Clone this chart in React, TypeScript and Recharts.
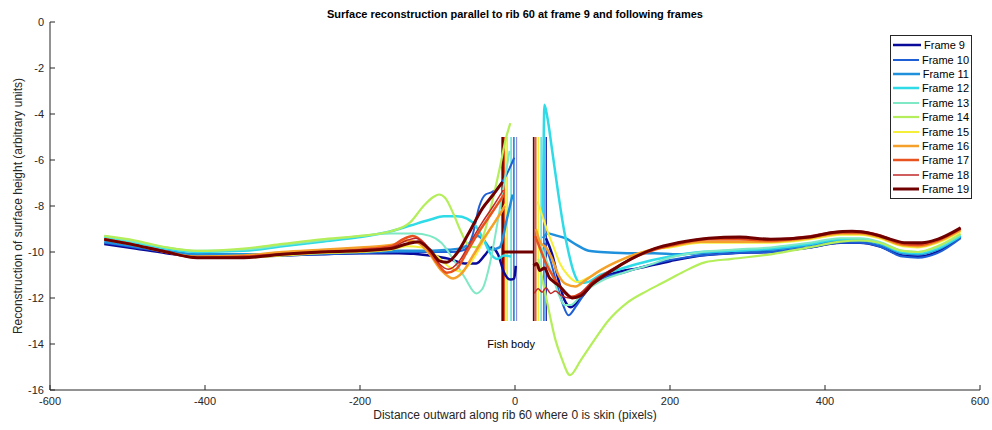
import React from 'react';
import { LineChart, Line, XAxis, YAxis, ReferenceLine, ReferenceDot, Legend } from 'recharts';

type Pt = [number, number];

const frameNames = ['Frame 9', 'Frame 10', 'Frame 11', 'Frame 12', 'Frame 13', 'Frame 14', 'Frame 15', 'Frame 16', 'Frame 17', 'Frame 18', 'Frame 19'];
const frameColors = ['#0a0a9a', '#1f5fd6', '#1f90dc', '#2fdbe6', '#7fe8c4', '#b4ee5a', '#f5ef3a', '#f4a02a', '#e8521e', '#c02828', '#700000'];
const frameWidths = [2.5, 2, 2.5, 2.5, 2, 2.2, 2, 2.5, 2.5, 1.5, 3];

const frame9Left: Pt[] = [[-530, -9.65], [-490, -9.85], [-450, -10.05], [-410, -10.2], [-350, -10.2], [-300, -10.15], [-250, -10.1], [-200, -10.05], [-150, -10.05], [-110, -10.15], [-85, -10.3], [-65, -10.5], [-50, -10.5], [-38, -10.1], [-30, -9.8], [-22, -10.1], [-14, -10.9], [-6, -11.2], [-1, -11.15], [1, -10.6]];
const frame9Right: Pt[] = [[40, -9.4], [48, -10.1], [56, -11.2], [64, -12.1], [72, -12.4], [85, -12.0], [100, -11.4], [130, -10.9], [160, -10.7], [200, -10.4], [240, -10.15], [280, -10.05], [330, -10.0], [380, -9.8], [420, -9.6], [445, -9.6], [470, -9.75], [500, -10.15], [520, -10.2], [545, -10.0], [575, -9.35]];

const frame10Left: Pt[] = [[-530, -9.6], [-490, -9.8], [-450, -10.0], [-410, -10.15], [-350, -10.15], [-300, -10.15], [-250, -10.1], [-200, -10.05], [-150, -10.0], [-110, -10.0], [-80, -10.0], [-65, -9.9], [-55, -9.3], [-46, -8.0], [-38, -7.5], [-30, -7.4], [-22, -7.2], [-12, -6.7], [-1, -5.9]];
const frame10Right: Pt[] = [[38, -9.6], [46, -10.4], [54, -11.4], [62, -12.3], [69, -12.75], [78, -12.4], [90, -11.8], [110, -11.2], [140, -10.9], [170, -10.6], [200, -10.35], [240, -10.15], [280, -10.05], [330, -10.0], [380, -9.8], [420, -9.6], [445, -9.6], [470, -9.75], [500, -10.2], [520, -10.25], [545, -10.05], [575, -9.4]];

const frame11Left: Pt[] = [[-530, -9.55], [-490, -9.75], [-450, -9.95], [-410, -10.1], [-350, -10.1], [-300, -10.1], [-250, -10.05], [-200, -10.0], [-150, -9.95], [-110, -9.95], [-85, -9.9], [-70, -9.85], [-58, -9.6], [-48, -9.3], [-40, -9.5], [-30, -9.9], [-20, -9.8], [-10, -8.5], [-3, -7.5]];
const frame11Right: Pt[] = [[36, -9.4], [42, -9.2], [55, -9.3], [65, -9.4], [80, -9.7], [95, -9.95], [110, -10.0], [145, -10.05], [180, -10.05], [210, -10.1], [240, -10.05], [280, -9.95], [330, -9.9], [380, -9.7], [420, -9.5], [445, -9.5], [470, -9.65], [500, -10.05], [520, -10.1], [545, -9.9], [575, -9.3]];

const frame12Left: Pt[] = [[-530, -9.35], [-490, -9.6], [-450, -9.85], [-410, -10.0], [-350, -9.95], [-300, -9.75], [-250, -9.55], [-200, -9.35], [-160, -9.1], [-135, -8.85], [-110, -8.6], [-92, -8.45], [-75, -8.45], [-62, -8.55], [-50, -8.9], [-40, -9.5], [-32, -10.05], [-23, -10.3], [-14, -10.15], [-5, -10.2]];
const frame12Right: Pt[] = [[36, -8.5], [38, -3.6], [42, -4.2], [48, -5.6], [56, -7.5], [63, -9.0], [69, -10.0], [76, -10.9], [84, -11.35], [95, -11.3], [110, -11.0], [130, -10.8], [160, -10.5], [200, -10.2], [240, -10.0], [280, -9.95], [330, -9.85], [380, -9.65], [420, -9.45], [445, -9.45], [470, -9.6], [500, -10.0], [520, -10.05], [545, -9.85], [575, -9.3]];

const frame13Left: Pt[] = [[-530, -9.3], [-490, -9.55], [-450, -9.8], [-410, -9.95], [-350, -9.9], [-300, -9.7], [-250, -9.5], [-200, -9.3], [-160, -9.2], [-130, -9.2], [-110, -9.3], [-95, -9.6], [-80, -10.3], [-65, -11.1], [-50, -11.8], [-42, -11.6], [-33, -10.6], [-24, -9.0], [-15, -7.2], [-7, -5.6]];
const frame13Right: Pt[] = [[32, -9.6], [40, -10.3], [48, -11.0], [56, -11.8], [64, -12.3], [72, -12.3], [82, -12.0], [95, -11.6], [115, -11.2], [140, -10.9], [170, -10.6], [200, -10.25], [240, -10.0], [280, -9.9], [330, -9.8], [380, -9.6], [420, -9.4], [445, -9.4], [470, -9.55], [500, -9.95], [520, -10.0], [545, -9.8], [575, -9.25]];

const frame14Left: Pt[] = [[-530, -9.3], [-490, -9.5], [-450, -9.8], [-410, -9.95], [-350, -9.85], [-300, -9.65], [-250, -9.45], [-200, -9.3], [-160, -9.1], [-135, -8.7], [-118, -8.0], [-105, -7.6], [-98, -7.5], [-90, -7.65], [-80, -8.3], [-70, -9.1], [-60, -9.7], [-50, -9.8], [-40, -9.2], [-30, -7.9], [-20, -6.4], [-12, -5.1], [-6, -4.4]];
const frame14Right: Pt[] = [[30, -10.3], [36, -11.3], [44, -12.6], [52, -13.8], [60, -14.6], [71, -15.35], [85, -14.7], [101, -13.9], [120, -13.0], [145, -12.2], [170, -11.7], [190, -11.35], [215, -10.9], [245, -10.45], [280, -10.3], [330, -10.1], [380, -9.8], [420, -9.55], [445, -9.5], [470, -9.6], [500, -9.95], [520, -10.0], [545, -9.75], [575, -9.2]];

const frame15Left: Pt[] = [[-530, -9.45], [-490, -9.7], [-450, -10.0], [-410, -10.25], [-350, -10.25], [-300, -10.15], [-250, -10.05], [-200, -10.0], [-160, -9.9], [-140, -9.75], [-120, -9.8], [-100, -10.2], [-85, -10.65], [-70, -10.85], [-58, -10.5], [-45, -9.8], [-32, -9.0], [-20, -8.4], [-12, -7.9]];
const frame15Right: Pt[] = [[29, -7.8], [35, -8.4], [42, -9.1], [50, -9.8], [58, -10.5], [68, -11.0], [80, -11.3], [95, -11.1], [115, -10.7], [140, -10.3], [170, -9.95], [200, -9.8], [240, -9.6], [280, -9.6], [330, -9.6], [380, -9.45], [420, -9.25], [445, -9.25], [470, -9.4], [500, -9.75], [520, -9.8], [545, -9.6], [575, -9.1]];

const frame16Left: Pt[] = [[-530, -9.45], [-490, -9.7], [-450, -10.0], [-410, -10.2], [-350, -10.15], [-300, -10.0], [-250, -9.9], [-200, -9.8], [-160, -9.7], [-140, -9.5], [-125, -9.6], [-110, -10.1], [-95, -10.8], [-80, -11.15], [-68, -10.9], [-55, -10.2], [-42, -9.5], [-28, -8.8], [-13, -8.0]];
const frame16Right: Pt[] = [[27, -9.0], [33, -9.6], [40, -9.8], [48, -10.3], [56, -11.0], [66, -11.4], [78, -11.5], [92, -11.2], [110, -10.8], [140, -10.3], [170, -9.95], [200, -9.75], [240, -9.55], [280, -9.55], [330, -9.55], [380, -9.4], [420, -9.2], [445, -9.2], [470, -9.35], [500, -9.7], [520, -9.75], [545, -9.55], [575, -9.05]];

const frame17Left: Pt[] = [[-530, -9.45], [-490, -9.7], [-450, -10.0], [-410, -10.25], [-350, -10.2], [-300, -10.1], [-250, -10.0], [-200, -9.9], [-160, -9.75], [-145, -9.45], [-132, -9.3], [-118, -9.6], [-102, -10.4], [-88, -10.9], [-76, -10.75], [-62, -10.0], [-48, -9.2], [-32, -8.4], [-14, -7.5]];
const frame17Right: Pt[] = [[26, -9.3], [33, -9.9], [40, -10.5], [50, -11.1], [60, -11.6], [72, -11.95], [85, -11.8], [100, -11.3], [125, -10.8], [150, -10.3], [180, -9.9], [210, -9.65], [250, -9.45], [290, -9.45], [330, -9.5], [380, -9.35], [420, -9.15], [445, -9.15], [470, -9.3], [500, -9.65], [520, -9.7], [545, -9.5], [575, -9.0]];

const frame18Left: Pt[] = [[-530, -9.45], [-490, -9.7], [-450, -10.0], [-410, -10.25], [-350, -10.2], [-300, -10.1], [-250, -10.0], [-200, -9.9], [-160, -9.8], [-140, -9.5], [-128, -9.4], [-112, -9.8], [-98, -10.5], [-86, -10.75], [-72, -10.4], [-58, -9.6], [-42, -8.7], [-28, -8.0], [-15, -7.3]];
const frame18Right: Pt[] = [[25, -11.8], [30, -11.6], [35, -11.75], [40, -11.55], [46, -11.8], [52, -11.7], [60, -11.9], [70, -12.0], [82, -11.85], [100, -11.3], [125, -10.75], [150, -10.3], [180, -9.85], [210, -9.6], [250, -9.4], [290, -9.4], [330, -9.45], [380, -9.3], [420, -9.1], [445, -9.1], [470, -9.25], [500, -9.6], [520, -9.65], [545, -9.45], [575, -8.95]];

const frame19Left: Pt[] = [[-530, -9.45], [-490, -9.7], [-450, -10.0], [-410, -10.25], [-350, -10.25], [-300, -10.1], [-250, -10.0], [-200, -9.95], [-160, -9.85], [-140, -9.65], [-125, -9.55], [-110, -9.9], [-97, -10.4], [-88, -10.45], [-76, -10.1], [-60, -9.2], [-42, -8.1], [-28, -7.5], [-16, -6.95]];
const frame19Right: Pt[] = [[24, -10.6], [28, -10.5], [32, -10.8], [38, -10.7], [44, -11.1], [50, -11.3], [58, -11.5], [66, -11.8], [74, -12.0], [85, -11.9], [100, -11.4], [125, -10.8], [150, -10.3], [180, -9.85], [210, -9.6], [250, -9.4], [290, -9.35], [330, -9.45], [380, -9.35], [410, -9.15], [435, -9.1], [460, -9.2], [485, -9.45], [505, -9.6], [525, -9.6], [545, -9.45], [575, -8.95]];

const leftParts: Pt[][] = [frame9Left, frame10Left, frame11Left, frame12Left, frame13Left, frame14Left, frame15Left, frame16Left, frame17Left, frame18Left, frame19Left];
const rightParts: Pt[][] = [frame9Right, frame10Right, frame11Right, frame12Right, frame13Right, frame14Right, frame15Right, frame16Right, frame17Right, frame18Right, frame19Right];

const leftEdges = [2, -1.5, -1.5, -5, -5, -10, -10.5, -13.5, -13.5, -15.5, -16];
const rightEdges = [40.3, 37.2, 37.2, 33.8, 33.8, 30.3, 30.3, 26.8, 26.8, 24.3, 24];
const edgeTop = -5;
const edgeBottom = -13;
const bodyLine: Pt[] = [[-16, -10], [24, -10]];
const bodyLabel: Pt = [-5, -14];

const xTicks = [-600, -400, -200, 0, 200, 400, 600];
const yTicks = [-16, -14, -12, -10, -8, -6, -4, -2, 0];

const FONT = '"Liberation Sans", Arial, Helvetica, sans-serif';
const AXIS = '#262626';

const toRows = (left: Pt[], right: Pt[]) => [
  ...left.map(([x, y]) => ({ x, y })),
  { x: (left[left.length - 1][0] + right[0][0]) / 2, y: null as number | null },
  ...right.map(([x, y]) => ({ x, y })),
];

const LegendBox = () => (
  <div
    style={{
      width: 82,
      boxSizing: 'border-box',
      background: '#fff',
      border: `1px solid ${AXIS}`,
      padding: '2px 2px 2px 2px',
      fontFamily: FONT,
      fontSize: 11,
      color: '#000',
    }}
  >
    {frameNames.map((n, i) => (
      <div key={n} style={{ display: 'flex', alignItems: 'center', height: 14.4 }}>
        <svg width={28} height={6} style={{ display: 'block' }}>
          <line x1={0} y1={3} x2={28} y2={3} stroke={frameColors[i]} strokeWidth={frameWidths[i]} />
        </svg>
        <span style={{ marginLeft: 3, whiteSpace: 'nowrap' }}>{n}</span>
      </div>
    ))}
  </div>
);

export default function App() {
  return (
    <div style={{ position: 'absolute', left: 0, top: 0, width: 992, height: 430, background: '#fff' }}>
      <div
        style={{
          position: 'absolute',
          left: 215,
          top: 7,
          width: 600,
          textAlign: 'center',
          fontFamily: FONT,
          fontSize: 11,
          fontWeight: 'bold',
          lineHeight: '14px',
          color: '#000',
        }}
      >
        Surface reconstruction parallel to rib 60 at frame 9 and following frames
      </div>
      <LineChart width={992} height={430} margin={{ top: 22, right: 12, bottom: 0, left: 0 }}>
        <XAxis
          type="number"
          dataKey="x"
          domain={[-600, 600]}
          ticks={xTicks}
          allowDataOverflow
          height={40}
          tickSize={-5}
          tickMargin={12}
          stroke={AXIS}
          tick={{ fill: AXIS, fontSize: 11, fontFamily: FONT }}
          label={{ value: 'Distance outward along rib 60 where 0 is skin (pixels)', position: 'insideBottom', offset: 11, fill: AXIS, fontSize: 12, fontFamily: FONT }}
        />
        <YAxis
          type="number"
          domain={[-16, 0]}
          ticks={yTicks}
          allowDataOverflow
          width={50}
          tickSize={-5}
          tickMargin={11}
          stroke={AXIS}
          tick={{ fill: AXIS, fontSize: 11, fontFamily: FONT }}
          label={{ value: 'Reconstruction of surface height (arbitrary units)', angle: -90, position: 'insideLeft', offset: 18, fill: AXIS, fontSize: 12, fontFamily: FONT, style: { textAnchor: 'middle' } }}
        />
        {leftEdges.map((e, i) => (
          <ReferenceLine
            key={`le${i}`}
            segment={[{ x: e, y: edgeTop }, { x: e, y: edgeBottom }]}
            stroke={frameColors[i]}
            strokeOpacity={i === 0 ? 0.45 : 1}
            strokeWidth={i === 10 ? 2.5 : 1.2}
          />
        ))}
        {rightEdges.map((e, i) => (
          <ReferenceLine
            key={`re${i}`}
            segment={[{ x: e, y: edgeTop }, { x: e, y: edgeBottom }]}
            stroke={frameColors[i]}
            strokeWidth={i === 10 ? 1.5 : 1.2}
          />
        ))}
        <ReferenceLine
          segment={bodyLine.map(([x, y]) => ({ x, y }))}
          stroke={frameColors[10]}
          strokeWidth={3}
        />
        {frameNames.map((n, i) => (
          <Line
            key={n}
            name={n}
            data={toRows(leftParts[i], rightParts[i])}
            dataKey="y"
            type="monotone"
            stroke={frameColors[i]}
            strokeWidth={frameWidths[i]}
            dot={false}
            activeDot={false}
            isAnimationActive={false}
          />
        ))}
        <ReferenceDot
          x={bodyLabel[0]}
          y={bodyLabel[1]}
          r={0}
          fill="none"
          stroke="none"
          label={{ value: 'Fish body', position: 'center', fill: '#000', fontSize: 11, fontFamily: FONT }}
        />
        <Legend
          layout="vertical"
          align="center"
          verticalAlign="middle"
          content={() => <LegendBox />}
          wrapperStyle={{ left: 890, top: 35, width: 82, right: 'auto', bottom: 'auto' }}
        />
      </LineChart>
    </div>
  );
}
